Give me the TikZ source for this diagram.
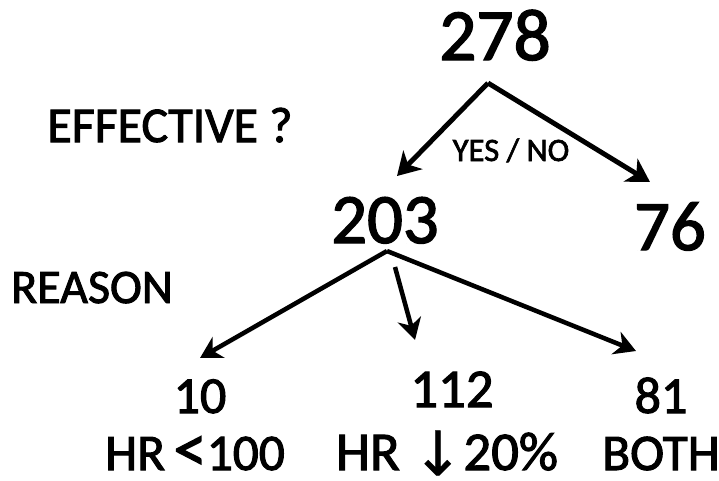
\documentclass[tikz,border=0pt]{standalone}
\usepackage{fontspec}
\setmainfont{Carlito}[FakeBold=2.0]
\newfontfamily\symfont{DejaVu Sans}[FakeBold=0.6]
\usetikzlibrary{arrows.meta}
\begin{document}
\begin{tikzpicture}[x=0.75pt,y=-0.75pt,
  lbl/.style={anchor=base,inner sep=0pt,outer sep=0pt},
  conn/.style={line width=3.7pt,-{Stealth[length=17pt,width=20pt,inset=5pt]}},
  connthin/.style={line width=3.4pt,-{Stealth[length=16pt,width=18pt,inset=5pt]}}]
\useasboundingbox (0,0) rectangle (719,480);
% texts
\node[lbl,font=\fontsize{55}{60}\selectfont] (n278) at (495,60) {278};
\node[lbl,font=\fontsize{37.5}{40}\selectfont] (eff) at (170,142) {EFFECTIVE ?};
\node[lbl,font=\fontsize{24.5}{28}\selectfont] (yn) at (511,161) {YES / NO};
\node[lbl,font=\fontsize{53}{58}\selectfont] (n203) at (385,243) {203};
\node[lbl,font=\fontsize{53}{58}\selectfont] (n76) at (670,250) {76};
\node[lbl,font=\fontsize{36}{40}\selectfont] (rsn) at (92,303) {REASON};
\node[lbl,font=\fontsize{39}{42}\selectfont] (n10) at (200,413) {10};
\node[lbl,font=\fontsize{41}{44}\selectfont] (n112) at (452,407) {112};
\node[lbl,font=\fontsize{39}{42}\selectfont] (n81) at (661,413) {81};
\node[lbl,font=\fontsize{38.5}{42}\selectfont] (hr1) at (195,470) {HR\,{\fontsize{50}{50}\selectfont\raisebox{-1pt}{<}}100};
\node[lbl,font=\fontsize{41}{44}\selectfont] (hr2) at (447,470) {HR {\symfont\fontsize{46}{46}\selectfont\raisebox{-4pt}{↓}}20\%};
\node[lbl,font=\fontsize{38.5}{42}\selectfont] (both) at (661,470) {BOTH};
% connector points
\coordinate (a1) at (488,83);
\coordinate (t1l) at (397,176);
\coordinate (t1r) at (650,182);
\coordinate (a2) at (387,251);
\coordinate (t2l) at (200,358);
\coordinate (t2r) at (636,351);
\coordinate (m2s) at (395,267);
\coordinate (m2t) at (415,340);
% connectors
\draw[conn] (a1) -- (t1l);
\draw[conn] (a1) -- (t1r);
\draw[connthin] (a2) -- (t2l);
\draw[connthin] (a2) -- (t2r);
\draw[connthin] (m2s) -- (m2t);
\end{tikzpicture}
\end{document}
